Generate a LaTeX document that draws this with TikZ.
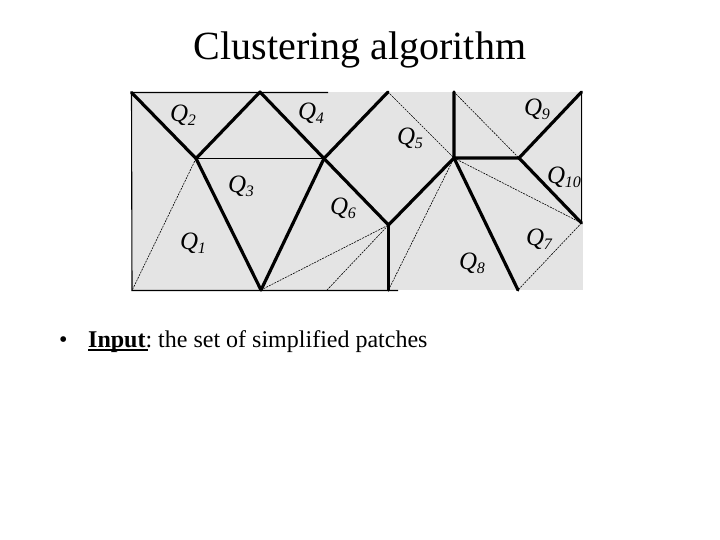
\documentclass[tikz,border=0pt]{standalone}
\usepackage{fontspec}
\setmainfont{Liberation Serif}
\frenchspacing
\definecolor{patch}{HTML}{E4E4E4}
\tikzset{
  heavy/.style={line width=3.2pt,line cap=round,line join=round},
  thin edge/.style={line width=1.1pt,black},
  fine/.style={line width=0.6pt,dash pattern=on 2pt off 1pt},
  qlabel/.style={inner sep=0pt,anchor=base west,font=\fontsize{25bp}{27bp}\selectfont\itshape},
}
\newcommand{\Ql}[1]{Q\kern-0.5pt\raisebox{-4bp}{\fontsize{16bp}{18bp}\selectfont #1}}
\begin{document}
\begin{tikzpicture}[x=1bp,y=-1bp]
\useasboundingbox (0,0) rectangle (720,540);
\fill[white] (0,0) rectangle (720,540);
\fill[patch] (132,92) rectangle (583,290);
% vertices
\coordinate (tl) at (131.5,92.5);
\coordinate (t1) at (260,92);
\coordinate (c) at (196,158.5);
\coordinate (d) at (324,158.5);
\coordinate (e) at (261,290);
\coordinate (bl) at (132,290.5);
\coordinate (f) at (327,290);
\coordinate (v) at (388.5,225);
\coordinate (t2) at (388,92);
\coordinate (z) at (454,158);
\coordinate (t3) at (454,92);
\coordinate (w) at (519,158);
\coordinate (ne) at (581.5,92);
\coordinate (r) at (581.5,223);
\coordinate (s) at (518,290);
\coordinate (b2) at (388.5,290);
\coordinate (topend) at (328,92.5);
\coordinate (botend) at (398,290.5);
% thin solid outline
\draw[thin edge] (topend) -- (tl) -- (bl) -- (botend);
\draw[thin edge] (c) -- (d);
\draw[thin edge] (ne) -- (r);
% dashed fine edges
\draw[fine] (c) -- (bl);
\draw[fine] (e) -- (v);
\draw[fine] (f) -- (v);
\draw[fine] (t2) -- (z);
\draw[fine] (b2) -- (z);
\draw[fine] (t3) -- (w);
\draw[fine] (z) -- (r);
\draw[fine] (r) -- (s);
% heavy edges
\draw[heavy] (tl) -- (c) -- (t1) -- (d) -- (v) -- (z);
\draw[heavy] (c) -- (e) -- (d) -- (t2);
\draw[heavy] (v) -- (b2);
\draw[heavy] (t3) -- (z) -- (w) -- (ne);
\draw[heavy] (w) -- (r);
\draw[heavy] (z) -- (s);
% labels
\node[qlabel] (q2) at (170,122) {\Ql{2}};
\node[qlabel] (q4) at (298,120) {\Ql{4}};
\node[qlabel] (q5) at (397,145) {\Ql{5}};
\node[qlabel] (q9) at (524,116) {\Ql{9}};
\node[qlabel] (q10) at (547,184) {\Ql{10}};
\node[qlabel] (q3) at (228,193) {\Ql{3}};
\node[qlabel] (q6) at (330,215) {\Ql{6}};
\node[qlabel] (q1) at (180,250) {\Ql{1}};
\node[qlabel] (q8) at (459,270) {\Ql{8}};
\node[qlabel] (q7) at (526,246) {\Ql{7}};
% text
\node[inner sep=0pt,anchor=base] (title) at (360,60) {\fontsize{40bp}{44bp}\selectfont Clustering algorithm};
\node[inner sep=0pt,anchor=base west] (bul) at (59,347) {\fontsize{24bp}{26bp}\selectfont •};
\node[inner sep=0pt,anchor=base west] (input) at (88,347) {\fontsize{24bp}{26bp}\selectfont \textbf{Input}: the set of simplified patches};
\draw[line width=1.2pt] (88,350) -- (148,350);
\end{tikzpicture}
\end{document}
